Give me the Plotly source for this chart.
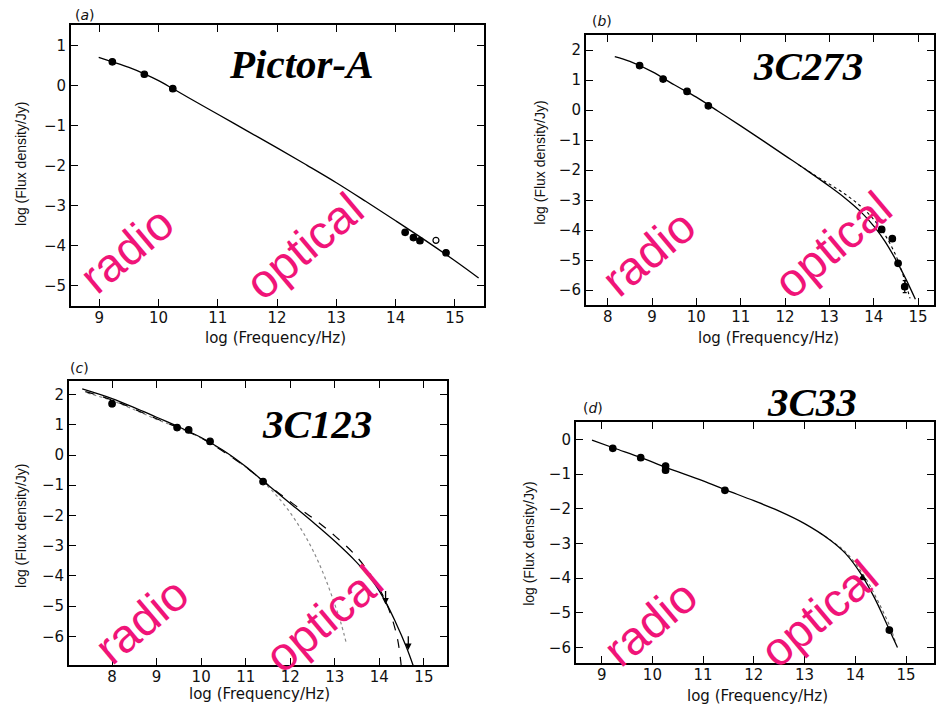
import plotly.graph_objects as go

# ---------------- data ----------------
# (a) Pictor-A
a_pts_x = [9.22, 9.76, 10.24, 14.16, 14.30, 14.41, 14.85]
a_pts_y = [0.60, 0.29, -0.07, -3.66, -3.79, -3.87, -4.17]
a_open_x = [14.68]
a_open_y = [-3.86]
a_fit_x = [8.99, 9.22, 9.5, 9.76, 10.0, 10.24, 10.5, 11.0, 11.5, 12.0, 12.5, 13.0, 13.5, 14.0, 14.5, 15.0, 15.4]
a_fit_y = [0.71, 0.60, 0.46, 0.30, 0.13, -0.07, -0.29, -0.71, -1.13, -1.55, -1.98, -2.42, -2.89, -3.37, -3.86, -4.37, -4.80]

# (b) 3C273
b_pts_x = [8.72, 9.25, 9.79, 10.27, 14.18, 14.42, 14.55, 14.70]
b_pts_y = [1.48, 1.03, 0.62, 0.14, -3.98, -4.29, -5.11, -5.89]
b_pts_err = [0, 0, 0, 0, 0, 0, 0.08, 0.2]
b_fit_x = [8.16, 8.5, 9.0, 9.5, 10.0, 10.5, 11.0, 11.5, 12.0, 12.5, 13.0, 13.35, 13.7, 14.03, 14.25, 14.51, 14.74, 14.94]
b_fit_y = [1.78, 1.62, 1.28, 0.84, 0.43, -0.05, -0.53, -1.02, -1.52, -2.02, -2.54, -2.93, -3.38, -3.92, -4.37, -5.02, -5.68, -6.31]
b_alt_x = [12.3, 12.7, 13.0, 13.35, 13.7, 14.03, 14.25, 14.5, 14.65, 14.82]
b_alt_y = [-1.82, -2.20, -2.47, -2.80, -3.20, -3.70, -4.15, -4.85, -5.45, -6.28]

# (c) 3C123
c_pts_x = [8.0, 9.46, 9.72, 10.2, 11.39]
c_pts_y = [1.70, 0.91, 0.83, 0.45, -0.88]
c_pts_err = [0.1, 0, 0, 0, 0]
c_lim_x = [14.14, 14.65]
c_lim_y = [-4.95, -6.45]
c_fit_x = [7.33, 8.0, 8.5, 9.0, 9.5, 10.0, 10.5, 11.0, 11.39, 12.05, 12.57, 13.02, 13.47, 13.84, 14.14, 14.37, 14.6, 14.76]
c_fit_y = [2.19, 1.87, 1.57, 1.25, 0.93, 0.58, 0.15, -0.38, -0.86, -1.66, -2.30, -2.88, -3.52, -4.15, -4.86, -5.55, -6.33, -6.97]
c_dash_x = [7.4, 8.0, 9.0, 10.0, 11.0, 11.39, 12.05, 12.57, 13.02, 13.47, 13.84, 14.07, 14.26, 14.41, 14.49]
c_dash_y = [2.10, 1.82, 1.20, 0.56, -0.40, -0.86, -1.60, -2.16, -2.70, -3.33, -4.04, -4.62, -5.30, -6.10, -6.96]
c_dot_x = [7.45, 8.0, 8.5, 9.0, 9.5, 10.0, 10.5, 11.0, 11.39, 11.83, 12.2, 12.5, 12.77, 12.99, 13.14, 13.26]
c_dot_y = [2.05, 1.80, 1.50, 1.18, 0.90, 0.56, 0.13, -0.40, -0.88, -1.58, -2.35, -3.13, -4.02, -4.90, -5.57, -6.24]

# (d) 3C33
d_pts_x = [9.22, 9.77, 10.26, 10.26, 11.43, 14.67]
d_pts_y = [-0.26, -0.53, -0.77, -0.89, -1.47, -5.50]
d_tri_x = [14.14]
d_tri_y = [-4.00]
d_fit_x = [8.81, 9.24, 9.78, 10.25, 11.0, 11.43, 12.0, 12.5, 13.0, 13.5, 13.8, 14.12, 14.38, 14.58, 14.71, 14.83]
d_fit_y = [-0.02, -0.25, -0.53, -0.80, -1.20, -1.45, -1.77, -2.07, -2.43, -2.90, -3.28, -3.90, -4.58, -5.20, -5.62, -6.00]
d_alt_x = [13.3, 13.8, 14.19, 14.45, 14.71, 14.8]
d_alt_y = [-2.70, -3.24, -3.98, -4.68, -5.50, -5.90]

panel_names = ["Pictor-A", "3C273", "3C123", "3C33"]
panel_tags = ["a", "b", "c", "d"]
x_title = "log (Frequency/Hz)"
y_title = "log (Flux density/Jy)"

# ---------------- figure ----------------
fig = go.Figure()
BLACK = "black"

def line(x, y, ax, dash="solid", color=BLACK, width=1.3):
    fig.add_trace(go.Scatter(x=x, y=y, mode="lines", xaxis=ax[0], yaxis=ax[1],
                             line=dict(color=color, width=width, dash=dash,
                                       shape="spline", smoothing=1.0),
                             hoverinfo="skip"))

def pts(x, y, ax, symbol="circle", size=6.5, err=None):
    kw = {}
    if err is not None:
        kw["error_y"] = dict(type="data", array=err, color=BLACK, thickness=1.2, width=2)
    fig.add_trace(go.Scatter(x=x, y=y, mode="markers", xaxis=ax[0], yaxis=ax[1],
                             marker=dict(symbol=symbol, size=size, color=BLACK,
                                         line=dict(color=BLACK, width=1.2)), **kw))

A = ("x", "y"); B = ("x2", "y2"); C = ("x3", "y3"); D = ("x4", "y4")

line(a_fit_x, a_fit_y, A)
pts(a_pts_x, a_pts_y, A)
pts(a_open_x, a_open_y, A, symbol="circle-open", size=6)

line(b_alt_x, b_alt_y, B, dash="dot", width=1.1)
line(b_fit_x, b_fit_y, B)
pts(b_pts_x, b_pts_y, B, err=b_pts_err)

line(c_dot_x, c_dot_y, C, dash="dot", color="#8a8a8a", width=1.2)
line(c_dash_x, c_dash_y, C, dash="dash", width=1.2)
line(c_fit_x, c_fit_y, C)
pts(c_pts_x, c_pts_y, C, err=c_pts_err)

line(d_alt_x, d_alt_y, D, dash="dot", color="#666", width=1.1)
line(d_fit_x, d_fit_y, D)
pts(d_pts_x, d_pts_y, D)
pts(d_tri_x, d_tri_y, D, symbol="triangle-up", size=6)

W, H = 936, 704
def dom_x(p0, p1):
    return [max(0, p0 / W), min(1, p1 / W)]
def dom_y(p0, p1):
    return [max(0, 1 - p1 / H), min(1, 1 - p0 / H)]

def axis(domain, rng, anchor, standoff=0):
    return dict(domain=domain, range=rng, anchor=anchor, dtick=1, tick0=0,
                ticks="inside", ticklen=7, tickwidth=1.3, tickcolor=BLACK,
                showline=True, linecolor=BLACK, linewidth=1.6, mirror="allticks",
                showgrid=False, zeroline=False, ticklabelstandoff=standoff,
                tickfont=dict(family="DejaVu Sans", size=15, color="#111"))

layout = dict(
    width=W, height=H, margin=dict(l=0, r=0, t=0, b=0),
    paper_bgcolor="white", plot_bgcolor="white", showlegend=False,
    xaxis=axis(dom_x(71, 485), [8.52, 15.49], "y", -3),
    yaxis=axis(dom_y(25, 306), [-5.5, 1.52], "x"),
    xaxis2=axis(dom_x(587, 936), [7.505, 15.36], "y2", -3),
    yaxis2=axis(dom_y(35, 305), [-6.5, 2.5], "x2"),
    xaxis3=axis(dom_x(69, 448), [7.03, 15.52], "y3", -3),
    yaxis3=axis(dom_y(381, 665), [-6.95, 2.45], "x3"),
    xaxis4=axis(dom_x(577, 936), [8.49, 15.55], "y4", -3),
    yaxis4=axis(dom_y(422, 663), [-6.45, 0.5], "x4"),
)
fig.update_layout(**layout)

ann = []
def P(px, py):
    return px / W, 1 - py / H

lab_font = dict(family="DejaVu Sans", size=15, color="#111")
ylab_font = dict(family="Liberation Sans", size=14, color="#111")
# axis titles
for (px, py) in [(276, 338), (770, 338), (260, 694), (759, 696)]:
    x, y = P(px, py)
    ann.append(dict(x=x, y=y, xref="paper", yref="paper", text=x_title, showarrow=False,
                    font=lab_font, xanchor="center", yanchor="middle"))
for (px, py) in [(21, 164), (541, 163), (21, 526), (530, 544)]:
    x, y = P(px, py)
    ann.append(dict(x=x, y=y, xref="paper", yref="paper", text=y_title, showarrow=False,
                    font=ylab_font, textangle=-90, xanchor="center", yanchor="middle"))
# panel tags
for tag, (px, py) in zip(panel_tags, [(85, 15), (603, 21), (80, 368), (594, 408)]):
    x, y = P(px, py)
    ann.append(dict(x=x, y=y, xref="paper", yref="paper", text=f"(<i>{tag}</i>)",
                    showarrow=False, font=dict(family="DejaVu Sans", size=14, color="#111"),
                    xanchor="center", yanchor="middle"))
# source names
for name, (px, py) in zip(panel_names, [(302, 64), (810, 66), (318, 424), (814, 402)]):
    x, y = P(px, py)
    ann.append(dict(x=x, y=y, xref="paper", yref="paper", text=f"<b><i>{name}</i></b>",
                    showarrow=False, font=dict(family="Liberation Serif", size=41, color=BLACK),
                    xanchor="center", yanchor="middle"))
# radio / optical
PINK = "#F01478"
band_pos = [
    (("x", "y"), (9.46, -4.08), (12.46, -3.98)),
    (("x2", "y2"), (8.92, -4.75), (13.08, -4.50)),
    (("x3", "y3"), (8.65, -5.47), (12.76, -5.42)),
    (("x4", "y4"), (9.96, -5.29), (13.28, -5.02)),
]
for (xr, yr), rp, op in band_pos:
    for txt, (bx, by) in (("radio", rp), ("optical", op)):
        ann.append(dict(x=bx, y=by, xref=xr, yref=yr, text=txt, showarrow=False,
                        textangle=-40, font=dict(family="Liberation Sans", size=47, color=PINK),
                        xanchor="center", yanchor="middle"))
# upper-limit arrows in (c)
for lx, ly in zip(c_lim_x, c_lim_y):
    ann.append(dict(x=lx, y=ly, ax=lx, ay=ly + 0.5, xref="x3", yref="y3", axref="x3", ayref="y3",
                    showarrow=True, arrowhead=2, arrowsize=1, arrowwidth=1.3, arrowcolor=BLACK, text=""))

fig.update_layout(annotations=ann)
fig.write_html("out.html")
